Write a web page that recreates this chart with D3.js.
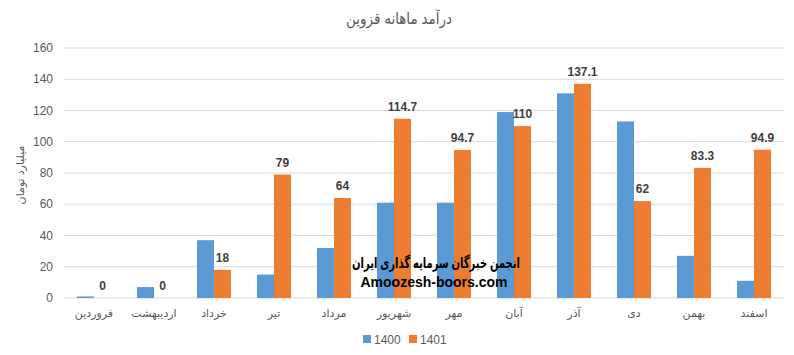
<!DOCTYPE html>
<html>
<head>
<meta charset="utf-8">
<script src="https://cdn.jsdelivr.net/npm/d3@7"></script>
<style>
body { margin: 0; background: #fff; }
text { font-family: "Liberation Sans", "DejaVu Sans", sans-serif; }
</style>
</head>
<body>
<div id="chart"></div>
<script>
'use strict';

var months = ['فروردین', 'اردیبهشت', 'خرداد', 'تیر', 'مرداد', 'شهریور', 'مهر', 'آبان', 'آذر', 'دی', 'بهمن', 'اسفند'];
var values1400 = [1, 7, 37, 15, 32, 61, 61, 119, 131, 113, 27, 11];
var values1401 = [0, 0, 18, 79, 64, 114.7, 94.7, 110, 137.1, 62, 83.3, 94.9];
var seriesNames = ['1400', '1401'];
var yTicks = [0, 20, 40, 60, 80, 100, 120, 140, 160];

var width = 794;
var height = 355;
var margin = { top: 48, right: 10, bottom: 57, left: 64 };
var colors = ['#5B9BD5', '#ED7D31'];

var svg = d3.select('#chart')
    .append('svg')
    .attr('width', width)
    .attr('height', height);

var x = d3.scaleBand()
    .domain(months)
    .range([margin.left, width - margin.right]);

var y = d3.scaleLinear()
    .domain([0, 160])
    .range([height - margin.bottom, margin.top]);

var barW = 17;

// gridlines
svg.selectAll('.grid')
    .data(yTicks)
    .enter()
    .append('line')
    .attr('x1', margin.left)
    .attr('x2', width - margin.right)
    .attr('y1', function(d) { return y(d); })
    .attr('y2', function(d) { return y(d); })
    .attr('stroke', '#D9D9D9')
    .attr('stroke-width', 1);

// y tick labels
svg.selectAll('.ytick')
    .data(yTicks)
    .enter()
    .append('text')
    .attr('x', 53)
    .attr('y', function(d) { return y(d) + 4; })
    .attr('text-anchor', 'end')
    .attr('font-size', 12)
    .attr('fill', '#595959')
    .text(function(d) { return d; });

// bars
var series = [values1400, values1401];
series.forEach(function(vals, s) {
    svg.selectAll('.bar' + s)
        .data(vals)
        .enter()
        .append('rect')
        .attr('x', function(d, i) { return x(months[i]) + x.bandwidth() / 2 - barW + s * barW; })
        .attr('y', function(d) { return y(d); })
        .attr('width', barW)
        .attr('height', function(d) { return y(0) - y(d); })
        .attr('fill', colors[s]);
});

// value labels above orange bars
svg.selectAll('.vlabel')
    .data(values1401)
    .enter()
    .append('text')
    .attr('x', function(d, i) { return x(months[i]) + x.bandwidth() / 2 + barW / 2; })
    .attr('y', function(d) { return y(d) - 8; })
    .attr('text-anchor', 'middle')
    .attr('font-size', 12)
    .attr('font-weight', 'bold')
    .attr('fill', '#404040')
    .text(function(d) { return d; });

// x labels
svg.selectAll('.xlabel')
    .data(months)
    .enter()
    .append('text')
    .attr('x', function(d) { return x(d) + x.bandwidth() / 2; })
    .attr('y', 317)
    .attr('text-anchor', 'middle')
    .attr('font-size', 11)
    .attr('fill', '#595959')
    .text(function(d) { return d; });

// title
svg.append('text')
    .attr('x', 399)
    .attr('y', 24)
    .attr('text-anchor', 'middle')
    .attr('font-size', 16)
    .attr('fill', '#595959')
    .attr('textLength', 106)
    .attr('lengthAdjust', 'spacingAndGlyphs')
    .text('درآمد ماهانه قزوین');

// y axis title
svg.append('text')
    .attr('transform', 'translate(24,175) rotate(-90)')
    .attr('text-anchor', 'middle')
    .attr('font-size', 11)
    .attr('fill', '#595959')
    .text('میلیارد تومان');

// legend
var legend = svg.selectAll('.legend')
    .data(seriesNames)
    .enter()
    .append('g')
    .attr('transform', function(d, i) { return 'translate(' + (363 + i * 46) + ',335)'; });

legend.append('rect')
    .attr('width', 8)
    .attr('height', 8)
    .attr('fill', function(d, i) { return colors[i]; });

legend.append('text')
    .attr('x', 11)
    .attr('y', 9)
    .attr('font-size', 12)
    .attr('fill', '#595959')
    .text(function(d) { return d; });

// watermark
svg.append('text')
    .attr('x', 436)
    .attr('y', 268)
    .attr('text-anchor', 'middle')
    .attr('font-size', 15)
    .attr('font-weight', 'bold')
    .attr('fill', '#000')
    .attr('textLength', 168)
    .attr('lengthAdjust', 'spacingAndGlyphs')
    .text('انجمن خبرگان سرمایه گذاری ایران');

svg.append('text')
    .attr('x', 434)
    .attr('y', 287)
    .attr('text-anchor', 'middle')
    .attr('font-size', 14)
    .attr('font-weight', 'bold')
    .attr('fill', '#000')
    .text('Amoozesh-boors.com');
</script>
</body>
</html>
